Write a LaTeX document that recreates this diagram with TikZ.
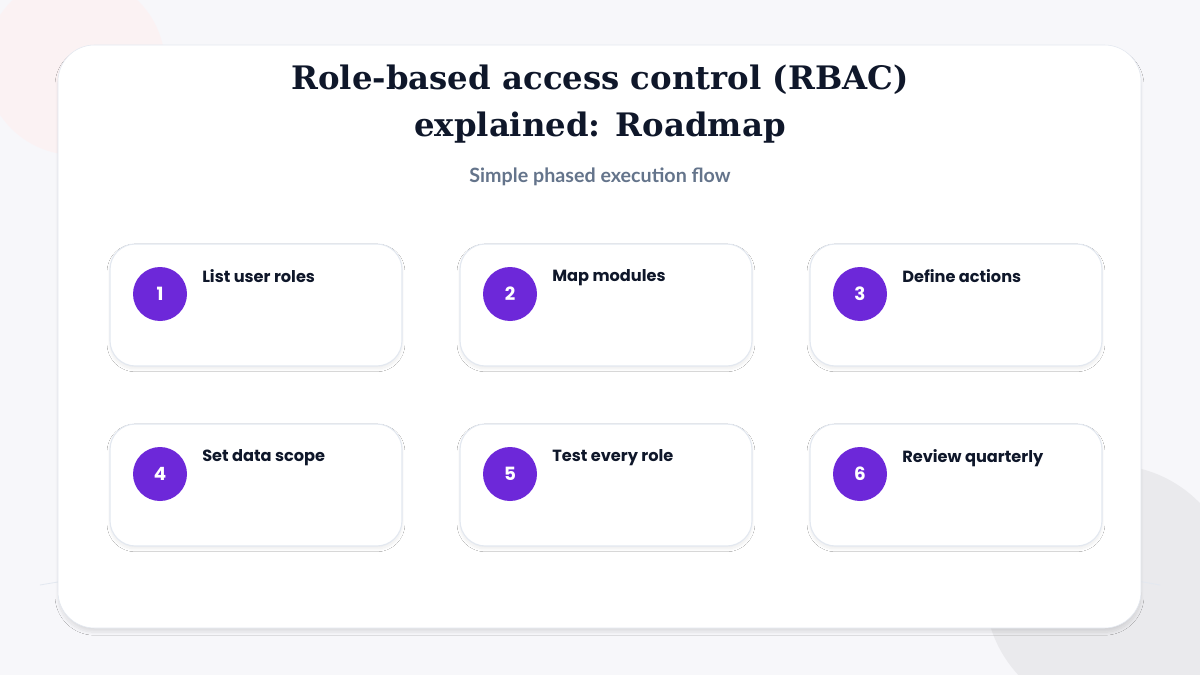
\documentclass[tikz,border=0pt]{standalone}
\usepackage{fontspec}
\setmainfont{DejaVu Serif}
\newfontfamily\labelfont{Lato}
\newfontfamily\stepfont{Poppins}
\usetikzlibrary{shadows.blur}
\definecolor{bgcol}{HTML}{F7F7FA}
\definecolor{navy}{HTML}{0F172A}
\definecolor{subgray}{HTML}{64748B}
\definecolor{stepviolet}{HTML}{6D28D9}
\definecolor{cardline}{HTML}{E3E8F0}
\tikzset{
  stepcard/.style={draw=cardline, line width=0.8pt, fill=white, rounded corners=18pt,
    minimum width=292*0.025cm, minimum height=122*0.025cm, blur shadow={shadow blur steps=12, shadow xshift=0pt, shadow yshift=-2pt, shadow opacity=8}},
  stepnum/.style={circle, fill=stepviolet, minimum size=54*0.025cm, inner sep=0pt, text=white, font=\stepfont\bfseries\fontsize{13}{13}\selectfont},
  steplabel/.style={anchor=north west, text=navy, inner sep=0pt, font=\stepfont\bfseries\fontsize{11.5}{14}\selectfont}
}
\begin{document}
\begin{tikzpicture}[x=0.025cm, y=-0.025cm]
  % background
  \fill[bgcol] (0,0) rectangle (1200,675);
  \useasboundingbox (0,0) rectangle (1200,675);
  \fill[pink!25, opacity=0.6] (75,65) circle (90);
  \fill[blue!8!gray!15] (1110,590) circle (125);
  \draw[cardline, line width=0.6pt] (40,585) .. controls (300,540) and (800,520) .. (1160,585);
  % main card
  \node[draw=cardline, fill=white, rounded corners=26pt, minimum width=1083*0.025cm, minimum height=583*0.025cm,
    blur shadow={shadow blur steps=12, shadow xshift=0pt, shadow yshift=-3pt, shadow opacity=10}] (panel) at (599.5,336.5) {};
  % title
  \node[text=navy, align=center, font=\bfseries\fontsize{23}{33}\selectfont] (title) at (600,104)
    {Role-based access control (RBAC)\\explained: Roadmap};
  \node[text=subgray, font=\labelfont\bfseries\fontsize{14}{16}\selectfont] (subtitle) at (600,177) {Simple phased execution flow};
  % steps
  \foreach \n/\x/\y/\txt in {1/110/244/List user roles, 2/460/244/Map modules, 3/810/244/Define actions,
      4/110/424/Set data scope, 5/460/424/Test every role, 6/810/424/Review quarterly} {
    \node[stepcard] (card\n) at (\x+146,\y+61) {};
    \node[stepnum] (num\n) at (\x+50,\y+50) {\n};
    \node[steplabel] (label\n) at (\x+92,\y+25) {\txt};
  }
\end{tikzpicture}
\end{document}
